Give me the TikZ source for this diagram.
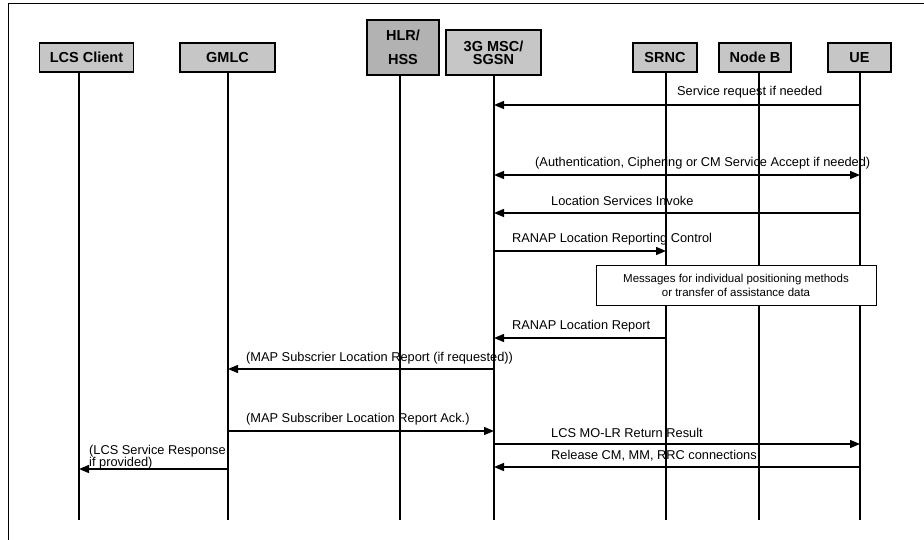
\documentclass[tikz,border=0pt]{standalone}
\usepackage{fontspec}
\setmainfont{Liberation Sans}
\usepackage{tikz}
\usetikzlibrary{arrows.meta,positioning}

\tikzset{
  actor/.style={draw, line width=1.6pt, fill=gray!45, minimum height=29pt,
    inner sep=1pt, align=center, font=\fontsize{14.5}{13}\selectfont\bfseries},
  life/.style={line width=1.3pt},
  msg/.style={line width=1.3pt, -{Triangle[length=10pt,width=8pt]}},
  dmsg/.style={line width=1.3pt, {Triangle[length=10pt,width=8pt]}-{Triangle[length=10pt,width=8pt]}},
  lbl/.style={anchor=west, inner sep=0pt, align=left, font=\fontsize{12.8}{12}\selectfont},
}

\begin{document}
\begin{tikzpicture}[x=1pt,y=-1pt]
    \useasboundingbox (0,0) rectangle (924,540);
    % frame
    \draw[line width=1pt] (924,4) -- (8,4) -- (8,540);

    % entities
    \node[actor, minimum width=94pt] (lcs) at (86.5,57.5) {LCS Client};
    \node[actor, minimum width=95pt] (gmlc) at (227.5,57.5) {GMLC};
    \node[actor, minimum width=72pt, minimum height=55pt, fill=gray!60] (hlr) at (403,47.5) {HLR/\\[11.5pt]HSS};
    \node[actor, minimum width=95pt, minimum height=45pt] (msc) at (493.5,52.5) {3G MSC/\\SGSN};
    \node[actor, minimum width=64pt] (srnc) at (665,57.5) {SRNC};
    \node[actor, minimum width=72pt] (nodeb) at (755,57.5) {Node B};
    \node[actor, minimum width=63pt] (ue) at (859.5,57.5) {UE};

    % lifelines
    \foreach \n/\x in {lcs/79, gmlc/228, hlr/400, msc/494, srnc/666, nodeb/759, ue/860} {
        \coordinate (\n-end) at (\x,520);
        \draw[life] (\n.south -| \n-end) -- (\n-end);
    }

    % messages
    \draw[msg] (ue-end |- 0,105) -- (msc-end |- 0,105);
    \node[lbl] (m1) at (677,92) {Service request if needed};

    \draw[dmsg] (msc-end |- 0,175) -- (ue-end |- 0,175);
    \node[lbl] (m2) at (535,163) {(Authentication, Ciphering or CM Service Accept if needed)};

    \draw[msg] (ue-end |- 0,213) -- (msc-end |- 0,213);
    \node[lbl] (m3) at (551,201) {Location Services Invoke};

    \draw[msg] (msc-end |- 0,251) -- (srnc-end |- 0,251);
    \node[lbl] (m4) at (512,239) {RANAP Location Reporting Control};

    \node[draw, line width=1pt, fill=white, minimum width=280pt, minimum height=39pt,
          inner sep=1pt, align=center, font=\fontsize{11.5}{14}\selectfont] (posbox) at (736,285.5)
          {Messages for individual positioning methods\\or transfer of assistance data};

    \draw[msg] (srnc-end |- 0,338) -- (msc-end |- 0,338);
    \node[lbl] (m5) at (512,326) {RANAP Location Report};

    \draw[msg] (msc-end |- 0,369) -- (gmlc-end |- 0,369);
    \node[lbl] (m6) at (246,358) {(MAP Subscrier Location Report (if requested))};

    \draw[msg] (gmlc-end |- 0,431) -- (msc-end |- 0,431);
    \node[lbl] (m7) at (246,419) {(MAP Subscriber Location Report Ack.)};

    \draw[msg] (msc-end |- 0,444) -- (ue-end |- 0,444);
    \node[lbl] (m8) at (551,433) {LCS MO-LR Return Result};

    \draw[msg] (ue-end |- 0,467) -- (msc-end |- 0,467);
    \node[lbl] (m9) at (551,456) {Release CM, MM, RRC connections};

    \draw[msg] (gmlc-end |- 0,469) -- (lcs-end |- 0,469);
    \node[lbl] (m10) at (89,457) {(LCS Service Response\\if provided)};
\end{tikzpicture}
\end{document}
